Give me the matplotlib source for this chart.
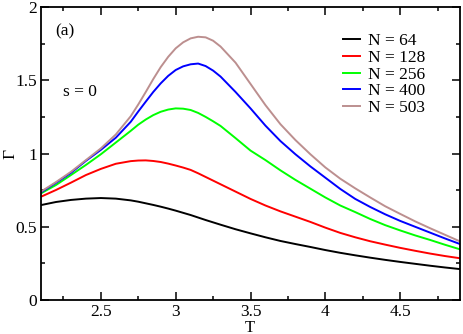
import numpy as np
import matplotlib.pyplot as plt
from matplotlib.ticker import MultipleLocator

plt.rcParams['font.family'] = 'serif'
plt.rcParams['font.serif'] = ['Liberation Serif', 'Times New Roman', 'DejaVu Serif']

# --- Data ---
T = [2.1, 2.2, 2.3, 2.4, 2.5, 2.6, 2.7, 2.75, 2.8, 2.85, 2.9, 2.95, 3.0, 3.05,
     3.1, 3.15, 3.2, 3.25, 3.3, 3.4, 3.5, 3.6, 3.7, 3.8, 3.9, 4.0, 4.1, 4.2,
     4.3, 4.4, 4.5, 4.6, 4.7, 4.8, 4.9]

gamma_64 = [0.648, 0.669, 0.683, 0.692, 0.696, 0.692, 0.680, 0.671, 0.660, 0.649,
            0.637, 0.624, 0.610, 0.595, 0.580, 0.563, 0.546, 0.530, 0.514, 0.483,
            0.455, 0.428, 0.403, 0.382, 0.362, 0.341, 0.322, 0.305, 0.289, 0.274,
            0.260, 0.247, 0.234, 0.222, 0.211]
gamma_128 = [0.705, 0.751, 0.801, 0.853, 0.895, 0.930, 0.948, 0.952, 0.953, 0.949,
             0.942, 0.931, 0.918, 0.904, 0.888, 0.865, 0.840, 0.815, 0.790, 0.740,
             0.690, 0.645, 0.605, 0.569, 0.533, 0.494, 0.458, 0.428, 0.401, 0.378,
             0.356, 0.336, 0.317, 0.300, 0.285]
gamma_256 = [0.728, 0.785, 0.853, 0.922, 0.995, 1.075, 1.155, 1.197, 1.232, 1.262,
             1.285, 1.300, 1.308, 1.306, 1.297, 1.277, 1.250, 1.220, 1.188, 1.105,
             1.020, 0.955, 0.885, 0.820, 0.760, 0.700, 0.645, 0.600, 0.553, 0.511,
             0.475, 0.441, 0.410, 0.377, 0.346]
gamma_400 = [0.735, 0.800, 0.868, 0.950, 1.025, 1.108, 1.217, 1.287, 1.354, 1.420,
             1.479, 1.530, 1.570, 1.595, 1.609, 1.614, 1.597, 1.566, 1.525, 1.420,
             1.308, 1.190, 1.085, 0.995, 0.912, 0.835, 0.758, 0.690, 0.635, 0.585,
             0.540, 0.500, 0.460, 0.420, 0.382]
gamma_503 = [0.740, 0.805, 0.875, 0.955, 1.035, 1.130, 1.255, 1.335, 1.420, 1.508,
             1.590, 1.660, 1.718, 1.759, 1.786, 1.797, 1.793, 1.770, 1.730, 1.620,
             1.475, 1.330, 1.200, 1.092, 0.995, 0.905, 0.828, 0.762, 0.700, 0.640,
             0.588, 0.537, 0.490, 0.445, 0.400]

series = [("N = 64", gamma_64, "black"),
          ("N = 128", gamma_128, "#ff0000"),
          ("N = 256", gamma_256, "#00ff00"),
          ("N = 400", gamma_400, "#0000ff"),
          ("N = 503", gamma_503, "#bc8f8f")]

fig = plt.figure(figsize=(4.63, 3.34), dpi=100)
ax = fig.add_axes([0.0886, 0.1018, 0.9049, 0.8772])

for label, g, c in series:
    ax.plot(T, g, color=c, lw=1.4, label=label)

ax.set_xlim(2.1, 4.9)
ax.set_ylim(0, 2)
ax.xaxis.set_major_locator(MultipleLocator(0.5))
ax.xaxis.set_minor_locator(MultipleLocator(0.25))
ax.yaxis.set_major_locator(MultipleLocator(0.5))
ax.yaxis.set_minor_locator(MultipleLocator(0.25))
ax.yaxis.set_major_formatter(plt.FuncFormatter(lambda v, p: f"{v:g}"))
ax.xaxis.set_major_formatter(plt.FuncFormatter(lambda v, p: f"{v:g}"))
ax.tick_params(which='both', direction='in', top=True, right=True, width=1.1,
               labelsize=12.5, pad=3)
ax.tick_params(which='major', length=6)
ax.tick_params(which='minor', length=3)
for sp in ax.spines.values():
    sp.set_linewidth(1.3)

ax.set_xlabel("T", fontsize=12, va='top')
ax.xaxis.set_label_coords(0.499, -0.069)
ax.set_ylabel("Γ", fontsize=12.5, va='center')
ax.yaxis.set_label_coords(-0.074, 0.498)

ax.text(0.033, 0.916, "(a)", transform=ax.transAxes, fontsize=12.5, va='center')
ax.text(0.0525, 0.711, "s = 0", transform=ax.transAxes, fontsize=12.5, va='center')

ax.legend(loc='upper left', bbox_to_anchor=(0.72, 0.912), frameon=False, fontsize=12.5,
          handlelength=1.0, handletextpad=0.46, labelspacing=0.04,
          borderpad=0, borderaxespad=0)

plt.savefig("out.png", dpi=100)
